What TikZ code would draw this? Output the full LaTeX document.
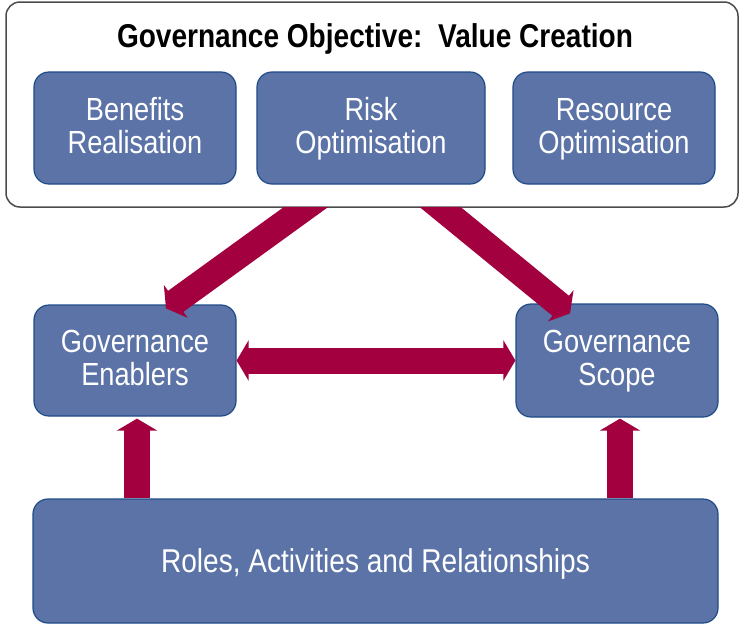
\documentclass[tikz,border=0pt]{standalone}
\usepackage{fontspec}
\setmainfont{Liberation Sans}[FakeStretch=0.85]
\usetikzlibrary{arrows.meta,calc}
\definecolor{boxblue}{HTML}{5B73A7}
\definecolor{boxedge}{HTML}{1F4B87}
\definecolor{arrowred}{HTML}{A3003F}
\newcommand{\lstrut}{\rule[-8pt]{0pt}{33pt}}
\begin{document}
\begin{tikzpicture}[x=1pt,y=-1pt,
    block/.style={draw=boxedge,line width=1.2pt,fill=boxblue,rounded corners=15pt,
        text=white,align=center,inner sep=0pt,font=\fontsize{32}{33}\selectfont},
    fat/.style={arrowred,line width=26pt},
    fattip/.style={-{Triangle[length=12pt,width=40pt]}}]
    \useasboundingbox (0,0) rectangle (741,627);

    \node[draw=black!70,line width=1.5pt,fill=white,rounded corners=14pt,
        minimum width=732pt,minimum height=205pt] (objective) at (372,104.5) {};
    \node[anchor=base,font=\fontsize{33}{33}\selectfont\bfseries] (title) at (375,47)
        {Governance Objective:\ \ Value Creation};

    \node[block,minimum width=202pt,minimum height=112pt] (benefits) at (135,128) {Benefits\lstrut\\Realisation\lstrut};
    \node[block,minimum width=228pt,minimum height=112pt] (risk) at (371,128) {Risk\lstrut\\Optimisation\lstrut};
    \node[block,minimum width=202pt,minimum height=112pt] (resource) at (614,128) {Resource\lstrut\\Optimisation\lstrut};

    \node[block,minimum width=202pt,minimum height=111pt] (enablers) at (135,360.5) {Governance\lstrut\\Enablers\lstrut};
    \node[block,minimum width=202pt,minimum height=113pt] (scope) at (617,360.5) {Governance\lstrut\\Scope\lstrut};
    \node[block,minimum width=685pt,minimum height=124pt,font=\fontsize{33}{33}\selectfont,
        text height=22pt,text depth=0pt] (roles) at (375.5,561)
        {Roles, Activities and Relationships};

    % objective down to enablers and scope
    \coordinate (ls) at ($(objective.south)+(-67,0)$);
    \coordinate (le) at ($(enablers.north)+(31,4)$);
    \coordinate (rs) at ($(objective.south)+(69,0)$);
    \coordinate (re) at ($(scope.north)+(-47,10)$);
    \begin{scope}
        \clip (objective.south -| 0,0) rectangle (741,627);
        \draw[fat,fattip] ($(ls)!-20pt!(le)$) -- (le);
        \draw[fat,fattip] ($(rs)!-20pt!(re)$) -- (re);
    \end{scope}
    \draw[fat,{Triangle[length=12pt,width=40pt]}-{Triangle[length=12pt,width=40pt]}]
        (enablers.east) -- (scope.west);
    % roles up
    \draw[fat,fattip] ($(roles.north -| enablers.south)+(2,0)$) -- ($(enablers.south)+(2,2)$);
    \draw[fat,fattip] ($(roles.north -| scope.south)+(3,0)$) -- ($(scope.south)+(3,1)$);
\end{tikzpicture}
\end{document}
